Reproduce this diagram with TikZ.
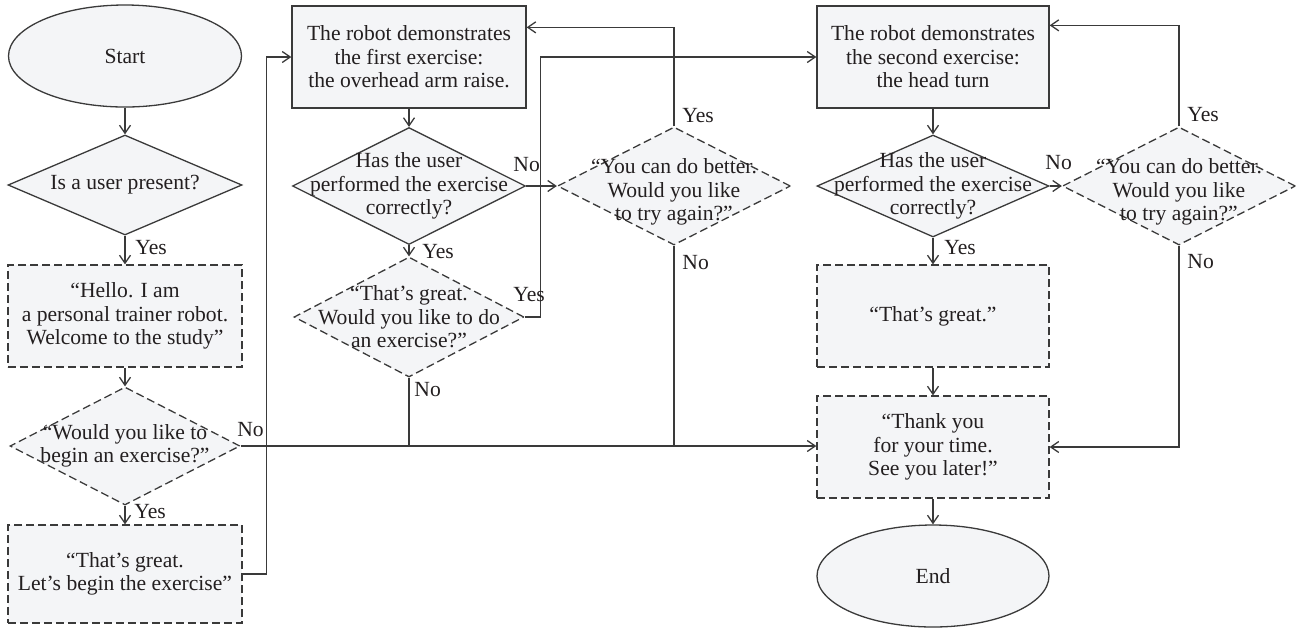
\documentclass[tikz,border=0pt]{standalone}
\usepackage{fontspec}
\setmainfont{Liberation Serif}
\usetikzlibrary{shapes.geometric,arrows.meta,calc}
\definecolor{boxfill}{HTML}{F4F5F7}
\definecolor{ink}{HTML}{3A3A3A}
\definecolor{txt}{HTML}{231F20}

\begin{document}
\begin{tikzpicture}[x=0.5pt,y=-0.5pt,
  font=\fontsize{10.8}{11.7}\selectfont,
  shapebase/.style={draw=ink, line width=0.65pt, fill=boxfill, inner sep=0pt,
    align=center, text=txt},
  procbox/.style={shapebase, rectangle, minimum width=116.5pt, minimum height=51pt},
  saybox/.style={procbox, dash pattern=on 4pt off 2pt},
  term/.style={shapebase, ellipse, minimum width=116.5pt, minimum height=51pt},
  ask/.style={shapebase, diamond, minimum width=116.5pt, minimum height=58.5pt},
  sayask/.style={ask, dash pattern=on 4pt off 2pt},
  dtxt/.style={align=center, inner sep=0pt, text=txt},
  lab/.style={inner sep=0pt, anchor=west, text=txt},
  arr/.style={draw=ink, line width=0.65pt, -{Straight Barb[length=4pt,width=5.5pt]}},
  conn/.style={draw=ink, line width=0.65pt}
]
\useasboundingbox (0,0) rectangle (1296,629);

% left column: greeting
\node[term] (start) at (125,56) {Start};
\node[ask, minimum width=117pt, minimum height=50pt,
  label={[dtxt]center:Is a user present?}] (q1) at (125,185) {};
\node[saybox, minimum width=117pt] (hello) at (125,316)
  {“Hello. I am\\a personal trainer robot.\\Welcome to the study”};
\node[sayask, minimum width=115pt, minimum height=59pt,
  label={[dtxt]center:{“Would you like to\\begin an exercise?”}}] (q2) at (125,446) {};
\node[saybox, minimum width=117pt, minimum height=49pt] (great1) at (125,574)
  {“That’s great.\\Let’s begin the exercise”};

% first exercise
\node[procbox, minimum width=117pt] (demo1) at (409,57)
  {The robot demonstrates\\the first exercise:\\the overhead arm raise.};
\node[ask, label={[dtxt]center:{Has the user\\performed the exercise\\correctly?}}]
  (chk1) at (409,186) {};
\node[sayask, minimum height=59pt,
  label={[dtxt,yshift=-3pt]center:{“You can do better.\\Would you like\\to try again?”}}]
  (retry1) at (674,186) {};
\node[sayask, minimum width=115pt, minimum height=60pt,
  label={[dtxt]center:{“That’s great.\\Would you like to do\\an exercise?”}}]
  (more) at (409,317) {};

% second exercise
\node[procbox, minimum width=116pt] (demo2) at (933,57)
  {The robot demonstrates\\the second exercise:\\the head turn};
\node[ask, minimum width=116pt, minimum height=51pt,
  label={[dtxt]center:{Has the user\\performed the exercise\\correctly?}}]
  (chk2) at (933,186) {};
\node[sayask, minimum height=59pt,
  label={[dtxt,yshift=-3pt]center:{“You can do better.\\Would you like\\to try again?”}}]
  (retry2) at (1179,186) {};
\node[saybox, minimum width=116pt] (great2) at (933,316) {“That’s great.”};
\node[saybox, minimum width=116pt] (thanks) at (933,447)
  {“Thank you\\for your time.\\See you later!”};
\node[term, minimum width=116pt] (end) at (933,576) {End};

% connectors
\draw[arr] (start.south) -- (q1.north);
\draw[arr] (q1.south) -- (hello.north);
\draw[arr] (hello.south) -- (q2.north);
\draw[arr] (q2.south) -- (great1.north);
\draw[arr] (great1.east) -- ++(24,0) |- (demo1.west);
\draw[arr] (q2.east) -- (q2.east -| thanks.west);

\draw[arr] (demo1.south) -- (chk1.north);
\draw[arr] (chk1.east) -- (retry1.west);
\draw[arr] (retry1.north) |- ($(demo1.north east)+(0,22)$);
\draw[conn] (retry1.south) -- (retry1.south |- q2.east);
\draw[arr] (chk1.south) -- (more.north);
\draw[arr] (more.east) -- ++(16,0) |- (demo2.west);
\draw[conn] (more.south) -- (more.south |- q2.east);

\draw[arr] (demo2.south) -- (chk2.north);
\draw[arr] (chk2.east) -- (retry2.west);
\draw[arr] (retry2.north) |- ($(demo2.north east)+(0,20)$);
\draw[arr] (retry2.south) |- (thanks.east);
\draw[arr] (chk2.south) -- (great2.north);
\draw[arr] (great2.south) -- (thanks.north);
\draw[arr] (thanks.south) -- (end.north);

% branch labels
\node[lab] (l1) at (135,248) {Yes};
\node[lab] (l2) at (237,430) {No};
\node[lab] (l3) at (134,512) {Yes};
\node[lab] (l4) at (513,165) {No};
\node[lab] (l5) at (422,252) {Yes};
\node[lab] (l6) at (513,295) {Yes};
\node[lab] (l7) at (414,390) {No};
\node[lab] (l8) at (682,116) {Yes};
\node[lab] (l9) at (682,263) {No};
\node[lab] (l10) at (1045,163) {No};
\node[lab] (l11) at (1187,115) {Yes};
\node[lab] (l12) at (1187,262) {No};
\node[lab] (l13) at (944,248) {Yes};
\end{tikzpicture}
\end{document}
